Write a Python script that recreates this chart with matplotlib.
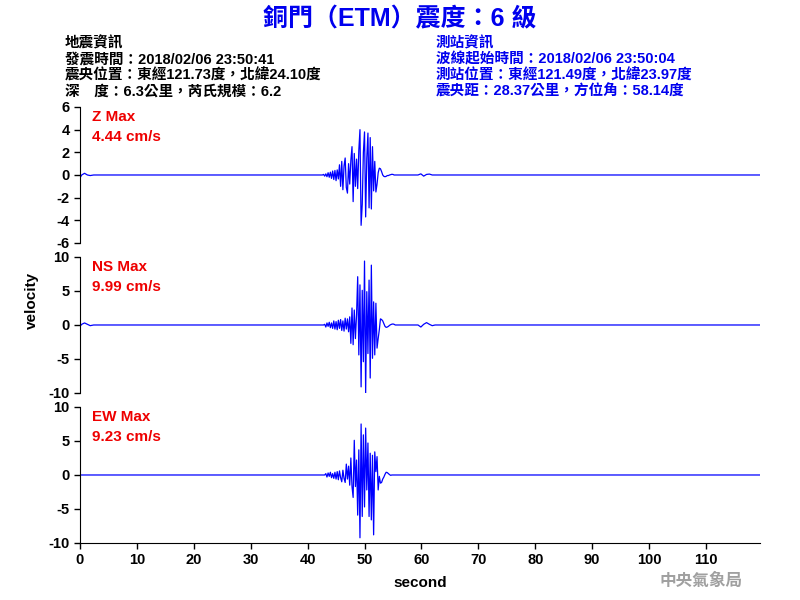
import numpy as np
import matplotlib
matplotlib.use('Agg')
import matplotlib.pyplot as plt

plt.rcParams['font.family'] = ['Liberation Sans', 'Noto Sans CJK TC', 'DejaVu Sans']
plt.rcParams['font.weight'] = 'bold'
plt.rcParams['axes.unicode_minus'] = False

# Header info
title = '銅門（ETM）震度：6 級'
quake_info = ['地震資訊',
              '發震時間：2018/02/06 23:50:41',
              '震央位置：東經121.73度，北緯24.10度',
              '深　度：6.3公里，芮氏規模：6.2']
station_info = ['測站資訊',
                '波線起始時間：2018/02/06 23:50:04',
                '測站位置：東經121.49度，北緯23.97度',
                '震央距：28.37公里，方位角：58.14度']

components = ['Z', 'NS', 'EW']
max_values = [4.44, 9.99, 9.23]
y_limits = [6, 10, 10]
y_ticks = [[-6, -4, -2, 0, 2, 4, 6], [-10, -5, 0, 5, 10], [-10, -5, 0, 5, 10]]

# Velocity samples (cm/s)
event_start = 42.6
event_step = 0.2
z_event = [0, 0.05, -0.1, 0.1, -0.15, 0.2, -0.2, 0.25, -0.3, 0.35, -0.4, 0.4, -0.5,
           0.45, -0.35, 0.9, -1.0, 1.2, -1.3, 0.8, 1.5, -1.1, -1.6, 1.0, -0.8, 1.3,
           2.5, -2.35, 1.9, -1.0, 1.4, -1.2, 2.2, 4.0, -4.44, -2.6, 2.0, 3.8, -3.7,
           1.5, 3.7, -2.9, 3.3, -3.0, 2.5, -1.4, 1.2, -1.5, -0.8, 0.2, 0.6, 0.55,
           0.3, 0.0, -0.12, -0.15, -0.12, -0.05, -0.05, 0.0, 0.03, 0.06, 0.05, 0.0]
ns_event = [0, 0, 0.1, -0.3, 0.3, -0.2, 0.4, -0.4, 0.3, -0.5, 0.6, -0.6, 0.5, -0.7,
            0.7, -0.5, 0.8, -0.8, 0.6, -0.9, 1.0, -0.6, 0.9, -1.0, 1.2, -2.7, 2.5,
            -2.9, 2.2, -2.0, 1.5, 7.1, -4.4, 5.9, -9.1, 5.1, -5.4, 9.4, -9.99, 4.9,
            -4.2, 6.6, -7.8, 8.8, -4.9, 3.4, -4.4, 3.2, -3.4, -2.0, -0.7, 0.9, 0.8,
            0.6, 0.2, -0.2, -0.35, -0.3, -0.2, -0.05, 0.05, 0.12, 0.15, 0.1, 0.0]
ew_event = [0, 0, 0, 0.2, -0.3, 0.3, -0.2, 0.4, -0.4, 0.2, -0.5, 0.4, -0.6, 0.5,
            -0.7, 0.6, -0.4, -1.0, 0.7, -0.5, -1.1, 1.6, -0.6, 1.3, -1.5, 2.5, -1.7,
            -3.3, 5.1, -1.7, 2.2, -5.9, 3.7, -9.23, 7.5, -6.1, 5.9, -4.7, 6.9, -2.2,
            4.7, -6.1, 3.2, -6.6, 2.9, -8.8, 3.4, 0.5, 2.7, -2.2, -0.2, -1.2, -1.1,
            -0.6, -0.3, 0.1, 0.4, 0.35, 0.2, 0.05, -0.05, 0.0]

head_t = [0, 0.3, 0.8, 1.3, 1.8, 2.4]
z_head = [-0.25, 0.0, 0.15, 0.0, -0.05, 0]
ns_head = [-0.2, 0.1, 0.3, 0.1, -0.1, 0]
ew_head = [0, 0, 0, 0, 0, 0]

tail_t = [59.4, 59.9, 60.4, 60.9, 61.4, 61.9, 62.4]
z_tail = [0, 0.1, -0.1, 0.05, 0.08, 0.0, 0]
ns_tail = [0, -0.3, 0.1, 0.35, 0.1, -0.1, 0]
ew_tail = [0, 0, 0, 0, 0, 0, 0]

end_time = 119.5


def build_trace(head, event, tail):
    ev_t = event_start + event_step * np.arange(len(event))
    t = np.concatenate([head_t, ev_t, tail_t, [end_time]])
    v = np.concatenate([head, event, tail, [0]])
    return t, v


traces = [build_trace(z_head, z_event, z_tail),
          build_trace(ns_head, ns_event, ns_tail),
          build_trace(ew_head, ew_event, ew_tail)]

fig = plt.figure(figsize=(8, 6), dpi=100)
blue = '#0000ee'

fig.text(0.5, 0.968, title, ha='center', va='center', color=blue,
         fontsize=18, fontweight='bold')
for i, line in enumerate(quake_info):
    fig.text(0.081, 0.928 - i * 0.0267, line, ha='left', va='center',
             color='black', fontsize=10.5, fontweight='bold')
for i, line in enumerate(station_info):
    fig.text(0.545, 0.928 - i * 0.0267, line, ha='left', va='center',
             color=blue, fontsize=10.5, fontweight='bold')

axes_pos = [(0.1, 0.595, 0.85, 0.2267),
            (0.1, 0.345, 0.85, 0.2267),
            (0.1, 0.095, 0.85, 0.2267)]

for k in range(3):
    ax = fig.add_axes(axes_pos[k])
    t, v = traces[k]
    ax.plot(t, v, color='#0000ff', linewidth=0.9)
    ax.set_xlim(0, end_time)
    ax.set_ylim(-y_limits[k], y_limits[k])
    ax.set_yticks(y_ticks[k])
    ax.spines['top'].set_visible(False)
    ax.spines['right'].set_visible(False)
    ax.tick_params(axis='y', direction='out', length=4, labelsize=10.5, width=1)
    for lab in ax.get_yticklabels():
        lab.set_fontweight('bold')
    ax.text(0.018, 0.93, components[k] + ' Max', transform=ax.transAxes,
            color='#ee0000', fontsize=11, fontweight='bold', va='center')
    ax.text(0.018, 0.78, '%.2f cm/s' % max_values[k], transform=ax.transAxes,
            color='#ee0000', fontsize=11, fontweight='bold', va='center')
    if k < 2:
        ax.spines['bottom'].set_visible(False)
        ax.set_xticks([])
    else:
        ax.set_xticks(np.arange(0, 111, 10))
        ax.tick_params(axis='x', direction='out', length=4, labelsize=10.5, width=1)
        for lab in ax.get_xticklabels():
            lab.set_fontweight('bold')
        ax.set_xlabel('second', fontsize=11, fontweight='bold', labelpad=6)

fig.text(0.04, 0.5, 'velocity', rotation=90, ha='center', va='center',
         fontsize=11, fontweight='bold')
fig.text(0.876, 0.032, '中央氣象局', ha='center', va='center', color='#a0a0a0',
         fontsize=12, fontweight='bold', family=['Noto Sans CJK TC'])

fig.savefig('out.png', dpi=100)
